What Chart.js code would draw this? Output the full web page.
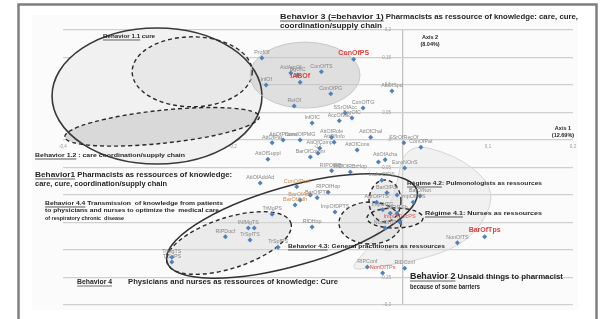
<!DOCTYPE html>
<html><head><meta charset="utf-8">
<script src="https://cdn.jsdelivr.net/npm/chart.js@4.4.0/dist/chart.umd.min.js"></script>
<style>html,body{margin:0;padding:0;background:#fff}canvas{display:block}</style>
</head><body>
<canvas id="c" width="602" height="319"></canvas>
<script>
// ---- DATA (correspondence analysis coordinates) ----
const pointLabels = ["ConOfPS","ConOfTS","AidAgrOf","BgOfC","IABOf","ConOfPG","RelOf","InfOf","ProfOf","AttOfSpd",
  "ConOfTG","SSrOfAcc","BarOfC","AccOfVac","InfOfC","AttOfChal","SSrOfRecOf","ConOfPat","AttOfPharm","AttOfPat",
  "CondOfPMG","AttOfRole","AttOfInfo","AttOfComp","","BarOfComm","AttOfSuppl","AttOfCons","AttOfAcha","",
  "RIPOfRBr","RIDOfRBrHop","AttOfAddAd","EuroNOnS","InchoOfDS","BarOfPot","BarOfNot","AgrOfPTS","ImpOfTG","InfOfTSh",
  "ImpOfPTS","ImpOfDPTS","RIDHop","RIPOfHop","BarOfPTS","","ConOfProf","BarOfAdv","BarOfAdh","ImpOfDocPS",
  "NonOfTG","NonOfTS","BarOfTps","RIPConf","RIDConf","NonOfTPs","RIPDocf","INfMgTS","","TrSpfTS",
  "TrMgPS","TrSpfPS","TrMgTS","TrSpPS","",""];
const axis1Values = [-0.058,-0.096,-0.132,-0.124,-0.121,-0.085,-0.128,-0.161,-0.166,-0.013,
  -0.047,-0.068,-0.060,-0.075,-0.107,-0.038,0.001,0.021,-0.141,-0.154,
  -0.121,-0.084,-0.081,-0.098,-0.100,-0.109,-0.159,-0.054,-0.021,-0.029,
  -0.084,-0.062,-0.168,0.002,-0.025,-0.019,0.020,-0.031,-0.024,-0.007,
  0.012,-0.080,-0.107,-0.088,-0.101,-0.109,-0.125,-0.121,-0.127,-0.004,
  -0.021,0.064,0.096,-0.042,0.002,-0.024,-0.209,-0.182,-0.175,-0.180,
  -0.154,-0.147,-0.272,-0.272,-0.015,-0.007];
const axis2Values = [0.147,0.124,0.122,0.118,0.105,0.084,0.062,0.100,0.149,0.089,
  0.058,0.049,0.040,0.035,0.031,0.005,-0.005,-0.013,0.000,-0.005,
  0.000,0.005,-0.004,-0.015,-0.024,-0.031,-0.035,-0.018,-0.036,-0.040,
  -0.056,-0.058,-0.078,-0.051,-0.073,-0.096,-0.102,-0.113,-0.127,-0.133,
  -0.113,-0.131,-0.158,-0.095,-0.105,-0.100,-0.085,-0.109,-0.118,-0.149,
  -0.160,-0.187,-0.176,-0.231,-0.233,-0.242,-0.176,-0.160,-0.160,-0.182,
  -0.135,-0.195,-0.213,-0.222,-0.133,-0.100];
// label group: g = active variable, r = highlighted, s = highlighted (minor), o = supplementary
const labelGroups = ["r","g","g","g","r","g","g","g","g","g",
  "g","g","g","g","g","g","g","g","g","g",
  "g","g","g","g","g","g","g","g","g","g",
  "g","g","g","g","g","g","g","g","g","g",
  "g","g","g","g","g","g","o","o","o","s",
  "g","g","r","g","g","s","g","g","g","g",
  "g","g","g","g","g","g"];
const xTickValues = [-0.4,-0.3,-0.2,-0.1,0,0.1,0.2];
const yTickValues = [0.2,0.15,0.1,0.05,0,-0.05,-0.1,-0.15,-0.2,-0.25,-0.3];

// ---- annotation geometry (data coordinates) ----
const ellipses = [
  {cx:-0.2894, cy:0.080, rx:0.1235, ry:0.1236, rot:0, fill:'#f1f1f1', stroke:'#3a3a3a', lw:1.6, dash:[]},
  {cx:-0.2480, cy:0.124, rx:0.0706, ry:0.0636, rot:0, fill:'#e8e8e8', stroke:'#2a2a2a', lw:1.4, dash:[4,3]},
  {cx:-0.2835, cy:0.024, rx:0.1150, ry:0.0300, rot:-6, fill:'#d9d9d9', stroke:'#2a2a2a', lw:1.4, dash:[4,3]},
  {cx:-0.1153, cy:0.118, rx:0.0647, ry:0.0600, rot:0, fill:'rgba(195,195,195,0.5)', stroke:'#c8c8c8', lw:1, dash:[]},
  {cx:-0.2047, cy:-0.1873, rx:0.0765, ry:0.0460, rot:-18, fill:'rgba(215,215,215,0.45)', stroke:'#2a2a2a', lw:1.4, dash:[4,3]},
  {cx:-0.0388, cy:-0.1509, rx:0.0365, ry:0.0382, rot:0, fill:'rgba(215,215,215,0.5)', stroke:'#2a2a2a', lw:1.4, dash:[4,3]},
  {cx:-0.0212, cy:-0.1109, rx:0.0188, ry:0.0382, rot:0, fill:'rgba(220,220,220,0.45)', stroke:'#2a2a2a', lw:1.4, dash:[4,3]},
  {cx:-0.0094, cy:-0.1418, rx:0.0330, ry:0.0182, rot:0, fill:'rgba(220,220,220,0.3)', stroke:'#2a2a2a', lw:1.4, dash:[4,3]},
  {cx:-0.1306, cy:-0.1564, rx:0.1530, ry:0.0720, rot:-16, fill:null, stroke:'#333333', lw:1.6, dash:[]}
];
const fanShape = [[0.0024,-0.0036],[0.0612,-0.0273],[0.1,-0.0727],[0.1059,-0.1182],[0.0788,-0.1818],
  [0.0318,-0.2145],[-0.0388,-0.2327],[-0.0647,-0.2364],[-0.0365,-0.1909],[-0.0094,-0.1]];

const B = 'bold ', F = '"Liberation Sans", Arial, sans-serif';
// w = width of the line in the reference (px); lines are squeezed/stretched horizontally to it
const notes = [
  {x:-0.1447, y:0.2236, w:298, segs:[{t:'Behavior 3 (=behavior 1)', f:B+'8px '+F, u:1},{t:' Pharmacists as ressource of knowledge: care, cure,', f:B+'7px '+F}]},
  {x:-0.1447, y:0.2073, w:102, segs:[{t:'coordination/supply chain', f:B+'7px '+F}]},
  {x:0.0318, y:0.1873, c:1, segs:[{t:'Axis 2', f:B+'5.5px '+F}]},
  {x:0.0318, y:0.1745, c:1, segs:[{t:'(8.04%)', f:B+'5.5px '+F}]},
  {x:0.1882, y:0.0218, c:1, segs:[{t:'Axis 1', f:B+'5.5px '+F}]},
  {x:0.1882, y:0.0091, c:1, segs:[{t:'(12.69%)', f:B+'5.5px '+F}]},
  {x:-0.3529, y:0.1891, w:52, segs:[{t:'Behavior 1.1', f:B+'6px '+F, u:1},{t:' cure', f:B+'6px '+F}]},
  {x:-0.4329, y:-0.0273, w:150, segs:[{t:'Behavior 1.2', f:B+'6px '+F, u:1},{t:' : care coordination/supply chain', f:B+'6px '+F}]},
  {x:-0.4329, y:-0.0636, w:197, segs:[{t:'Behavior1', f:B+'8px '+F, u:1},{t:' Pharmacists as ressources of knowledge:', f:B+'7.5px '+F}]},
  {x:-0.4329, y:-0.0800, w:132, segs:[{t:'care, cure, coordination/supply chain', f:B+'7.5px '+F}]},
  {x:-0.4212, y:-0.1145, w:178, segs:[{t:'Behavior 4.4', f:B+'6px '+F, u:1},{t:' Transmission  of knowledge from patients', f:B+'6px '+F}]},
  {x:-0.4212, y:-0.1273, w:174, segs:[{t:'to physicians and nurses to optimize the  medical care', f:B+'6px '+F}]},
  {x:-0.4212, y:-0.1418, w:79, segs:[{t:'of respiratory chronic  disease', f:B+'5.8px '+F}]},
  {x:-0.3835, y:-0.2582, w:35, segs:[{t:'Behavior 4', f:B+'8px '+F, u:1}]},
  {x:-0.3235, y:-0.2582, w:210, segs:[{t:'Physicians and nurses as ressources of knowledge: Cure', f:B+'7.5px '+F}]},
  {x:0.0047, y:-0.0782, w:135, segs:[{t:'Régime 4.2', f:B+'6px '+F, u:1},{t:': Pulmonologists as ressources', f:B+'6px '+F}]},
  {x:0.0259, y:-0.1327, w:117, segs:[{t:'Régime 4.1', f:B+'6px '+F, u:1},{t:': Nurses as ressources', f:B+'6px '+F}]},
  {x:-0.1353, y:-0.1927, w:157, segs:[{t:'Behavior 4.3', f:B+'6px '+F, u:1},{t:': General practitioners as ressources', f:B+'6px '+F}]},
  {x:0.0082, y:-0.2491, w:153, segs:[{t:'Behavior 2', f:B+'8.5px '+F, u:1},{t:' Unsaid things to pharmacist', f:B+'7.5px '+F}]},
  {x:0.0082, y:-0.2673, w:70, segs:[{t:'because of some barriers', f:B+'6.5px '+F}]}
];

const fmt = v => { const n = parseFloat(Number(v).toFixed(2)); return String(n).replace('.', ','); };

const framePlugin = {
  id:'frame',
  beforeDraw(chart){
    const c = chart.ctx; c.save();
    c.fillStyle='#ffffff'; c.fillRect(0,0,602,319);
    c.fillStyle='#fbfbfb'; c.fillRect(32,15,546,295);
    c.strokeStyle='#7f7f7f'; c.lineWidth=2.5; c.strokeRect(18.5,4.5,578,330);
    c.restore();
  }
};

function ellPath(c, chart, e){
  const xs = chart.scales.x, ys = chart.scales.y;
  const px = xs.getPixelForValue(e.cx), py = ys.getPixelForValue(e.cy);
  const rxp = Math.abs(xs.getPixelForValue(e.cx+e.rx)-px), ryp = Math.abs(ys.getPixelForValue(e.cy+e.ry)-py);
  c.beginPath(); c.ellipse(px, py, rxp, ryp, e.rot*Math.PI/180, 0, Math.PI*2);
}
function fanPath(c, chart){
  const xs = chart.scales.x, ys = chart.scales.y;
  const p = fanShape.map(v=>[xs.getPixelForValue(v[0]), ys.getPixelForValue(v[1])]);
  const n = p.length, mid = i => { const a=p[i%n], b=p[(i+1)%n]; return [(a[0]+b[0])/2,(a[1]+b[1])/2]; };
  c.beginPath(); const m0 = mid(n-1); c.moveTo(m0[0], m0[1]);
  for (let i=0;i<n;i++){ const m = mid(i); c.quadraticCurveTo(p[i][0], p[i][1], m[0], m[1]); }
  c.closePath();
}
const shapesPlugin = {
  id:'shapes',
  beforeDatasetsDraw(chart){
    const c = chart.ctx; c.save();
    fanPath(c, chart); c.fillStyle='rgba(228,228,228,0.4)'; c.fill(); c.strokeStyle='#d6d6d6'; c.lineWidth=1; c.stroke();
    ellipses.forEach(e=>{ if(e.fill){ ellPath(c, chart, e); c.fillStyle=e.fill; c.fill(); } });
    ellipses.forEach(e=>{ ellPath(c, chart, e); c.setLineDash(e.dash); c.strokeStyle=e.stroke; c.lineWidth=e.lw; c.stroke(); });
    c.restore();
  }
};
const labelPlugin = {
  id:'ptLabels',
  afterDatasetsDraw(chart){
    const c = chart.ctx, meta = chart.getDatasetMeta(0); c.save();
    c.textAlign='center'; c.textBaseline='bottom';
    meta.data.forEach((el,i)=>{
      const t = pointLabels[i]; if(!t) return;
      const k = labelGroups[i];
      if(k==='r'){ c.font='bold 7px '+F; c.fillStyle='#e3403a'; }
      else if(k==='s'){ c.font='5.5px '+F; c.fillStyle='#e8504a'; }
      else if(k==='o'){ c.font='5.5px '+F; c.fillStyle='#d28c4a'; }
      else { c.font='5.3px '+F; c.fillStyle='#858585'; }
      c.fillText(t, el.x, el.y-3);
    });
    c.restore();
  },
  afterDraw(chart){
    const c = chart.ctx, xs = chart.scales.x, ys = chart.scales.y;
    notes.forEach(n=>{
      let x = xs.getPixelForValue(n.x); const y = ys.getPixelForValue(n.y);
      let tw = 0; n.segs.forEach(s=>{ c.font=s.f; tw+=c.measureText(s.t).width; });
      const sx = n.w ? n.w/tw : 1;
      if(n.c) x -= tw/2;
      c.save(); c.translate(x, y); c.scale(sx, 1);
      c.textBaseline='middle'; c.fillStyle='#262626'; c.strokeStyle='#262626';
      let lx = 0;
      n.segs.forEach(s=>{
        c.font=s.f; const w = c.measureText(s.t).width; c.fillText(s.t, lx, 0);
        if(s.u){ c.lineWidth=0.7; c.beginPath(); c.moveTo(lx, 4); c.lineTo(lx+w, 4); c.stroke(); }
        lx += w;
      });
      c.restore();
    });
  }
};

new Chart(document.getElementById('c'), {
  type:'scatter',
  data:{ datasets:[{ data: axis1Values.map((x,i)=>({x, y:axis2Values[i]})),
    pointStyle:'rectRot', pointRadius:2.5, backgroundColor:'#4f81bd', borderWidth:0 }] },
  options:{
    responsive:false, animation:false, devicePixelRatio:1,
    layout:{ padding:{ left:63, right:29, top:30, bottom:14 } },
    plugins:{ legend:{display:false}, tooltip:{enabled:false} },
    scales:{
      x:{ type:'linear', min:-0.4, max:0.2, position:{y:0},
        afterBuildTicks: s => { s.ticks = xTickValues.map(v=>({value:v})); },
        grid:{ drawTicks:false, lineWidth:1.3, color: ctx => (ctx.tick && ctx.tick.value===0) ? '#c4c4c4' : 'rgba(0,0,0,0)' },
        border:{ display:false },
        ticks:{ font:{size:4.5, family:F}, color:'#9a9a9a', padding:4, callback: v => v===0 ? '' : fmt(v), maxRotation:0, autoSkip:false } },
      y:{ type:'linear', min:-0.3, max:0.2, position:{x:-0.014},
        afterBuildTicks: s => { s.ticks = yTickValues.map(v=>({value:v})); },
        grid:{ drawTicks:false, lineWidth:1.3, color:'#cfcfcf' },
        border:{ display:false },
        ticks:{ font:{size:4.5, family:F}, color:'#9a9a9a', callback: v => fmt(v), autoSkip:false } }
    }
  },
  plugins:[framePlugin, shapesPlugin, labelPlugin]
});
</script>
</body></html>
